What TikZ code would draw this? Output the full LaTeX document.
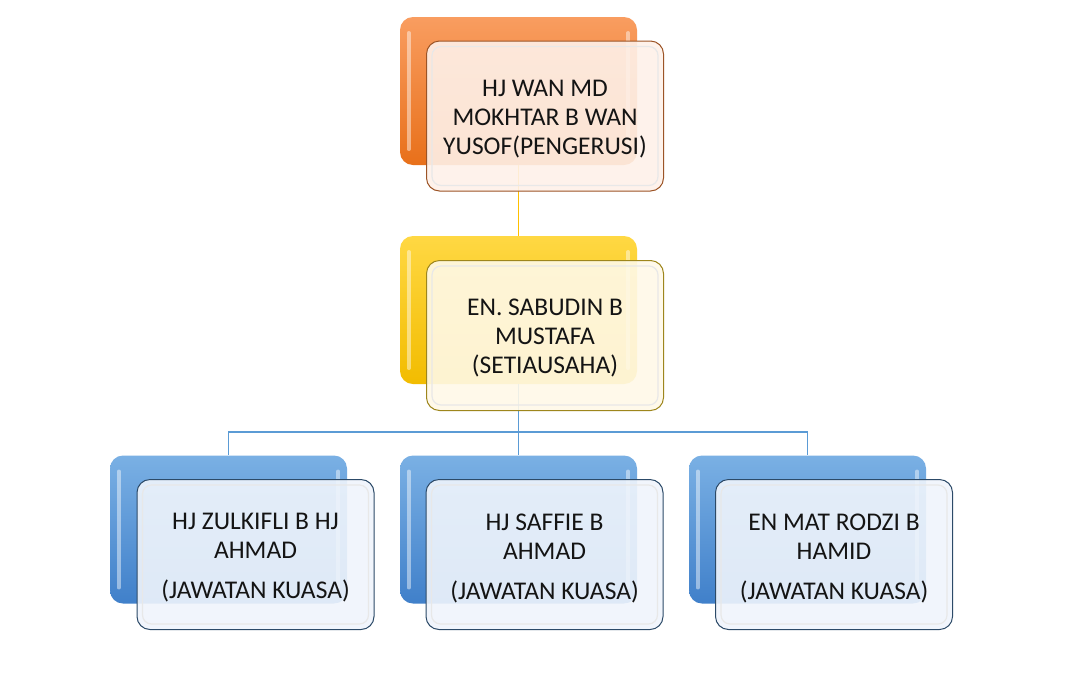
\documentclass[tikz,border=0pt]{standalone}
\usepackage{fontspec}
\setmainfont{Carlito}
\usetikzlibrary{calc}
\definecolor{orTop}{HTML}{F99D60}
\definecolor{orBot}{HTML}{E8701A}
\definecolor{orLine}{HTML}{9C5426}
\definecolor{orFill}{HTML}{FEF1E9}
\definecolor{yeTop}{HTML}{FFD843}
\definecolor{yeBot}{HTML}{F2BC00}
\definecolor{yeLine}{HTML}{9E861C}
\definecolor{yeFill}{HTML}{FFF9E8}
\definecolor{blTop}{HTML}{7AB0E4}
\definecolor{blBot}{HTML}{4080CA}
\definecolor{blLine}{HTML}{2C4A68}
\definecolor{blFill}{HTML}{F0F5FC}
\definecolor{linkGold}{HTML}{FFC000}
\definecolor{linkBlue}{HTML}{5B9BD5}
\begin{document}
\begin{tikzpicture}[x=1pt,y=-1pt,
  backbox/.style 2 args={rectangle, rounded corners=13pt, minimum width=237pt,
    minimum height=148pt, inner sep=0pt, top color=#1, bottom color=#2},
  frontbox/.style 2 args={rectangle, rounded corners=13pt, minimum width=237pt,
    minimum height=150pt, inner sep=0pt, draw=#1, line width=1pt,
    fill=#2, fill opacity=0.9},
  label/.style={align=center, inner sep=0pt, text=black!92,
    font=\fontsize{25.5}{29}\selectfont},
  gloss/.style={white, opacity=0.45, line width=3.5pt, line cap=round},
  rim/.style={draw=black!9, line width=1.2pt, rounded corners=9pt},
  goldlink/.style={draw=linkGold, line width=1.3pt},
  bluelink/.style={draw=linkBlue, line width=1.3pt}
]
\useasboundingbox (0,0) rectangle (1083,678);
\fill[white] (0,0) rectangle (1083,678);

% back boxes
\node[backbox={orTop}{orBot}] (pb) at (518.5,91) {};
\node[backbox={yeTop}{yeBot}] (sb) at (518.5,310) {};
\node[backbox={blTop}{blBot}] (ab) at (228.5,529.5) {};
\node[backbox={blTop}{blBot}] (bb) at (518.5,529.5) {};
\node[backbox={blTop}{blBot}] (cb) at (807.5,529.5) {};

\foreach \n in {pb,sb,ab,bb,cb}{
  \draw[gloss] ($(\n.north west)+(9pt,-16pt)$) -- ($(\n.south west)+(9pt,16pt)$);
  \draw[gloss] ($(\n.north east)+(-9pt,-16pt)$) -- ($(\n.south east)+(-9pt,16pt)$);
}

% connectors
\coordinate (bus) at (518.5,432);
\draw[goldlink] (pb.south) -- (sb.north);
\draw[bluelink] (sb.south) -- (bus);
\draw[bluelink] (bus) -| (ab.north);
\draw[bluelink] (bus) -| (cb.north);
\draw[bluelink] (bus) -- (bb.north);

% front boxes
\node[frontbox={orLine}{orFill}] (pf) at (545,116) {};
\node[frontbox={yeLine}{yeFill}] (sf) at (545,335.5) {};
\node[frontbox={blLine}{blFill}] (af) at (255.5,554.5) {};
\node[frontbox={blLine}{blFill}] (bf) at (544.5,554.5) {};
\node[frontbox={blLine}{blFill}] (cf) at (834,554.5) {};

\foreach \n in {pf,sf,af,bf,cf}{
  \draw[rim] ($(\n.north west)+(6pt,-6pt)$) rectangle ($(\n.south east)+(-6pt,6pt)$);
}

% texts
\node[label] (pt) at ($(pf.center)+(0,3)$) {HJ WAN MD\\MOKHTAR B WAN\\YUSOF(PENGERUSI)};
\node[label] (st) at ($(sf.center)+(0,2)$) {EN. SABUDIN B\\MUSTAFA\\(SETIAUSAHA)};
\node[label] (at) at ($(af.center)+(0,3.5)$) {HJ ZULKIFLI B HJ\\AHMAD\\[11pt](JAWATAN KUASA)};
\node[label] (bt) at ($(bf.center)+(0,3.5)$) {HJ SAFFIE B\\AHMAD\\[11pt](JAWATAN KUASA)};
\node[label] (ct) at ($(cf.center)+(0,3.5)$) {EN MAT RODZI B\\HAMID\\[11pt](JAWATAN KUASA)};
\end{tikzpicture}
\end{document}
